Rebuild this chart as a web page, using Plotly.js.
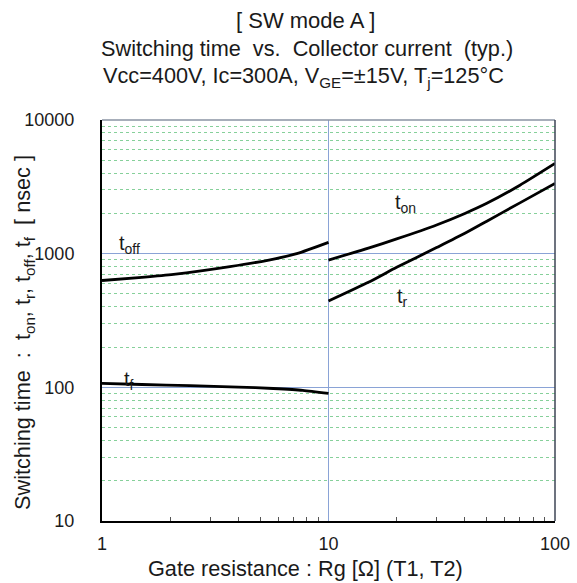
<!DOCTYPE html>
<html>
<head>
<meta charset="utf-8">
<script src="https://cdn.plot.ly/plotly-3.0.1.min.js"></script>
<style>html,body{margin:0;padding:0;background:#fff;}#chart{width:577px;height:583px;}</style>
</head>
<body>
<div id="chart"></div>
<script>
// Gate resistance Rg [ohm] and switching times [nsec]
const rgLow = [1, 1.5, 2.07, 3.67, 5.52, 7.24, 10];
const tOff = [630, 665, 700, 800, 900, 1000, 1215];
const rgTf = [1, 1.5, 2.45, 4, 5.7, 7.7, 10];
const tF = [107, 105, 103, 100.5, 98, 95, 90];
const rgHigh = [10, 15, 20, 30, 40, 50, 70, 100];
const tOn = [896, 1100, 1290, 1640, 2000, 2380, 3250, 4730];
const tR = [442, 610, 790, 1110, 1420, 1750, 2400, 3356];
const xTickVals = [1, 10, 100];
const xTickText = ['1', '10', '100'];
const yTickVals = [10, 100, 1000, 10000];
const yTickText = ['10', '100', '1000', '10000'];
const S2 = '\u00a0\u00a0';
const titleLines = [
  '[ SW mode A ]',
  'Switching time' + S2 + 'vs.' + S2 + 'Collector current' + S2 + '(typ.)',
  'Vcc=400V, Ic=300A, V<sub>GE</sub>=±15V, T<sub>j</sub>=125°C'
];
const xTitle = 'Gate resistance : Rg [Ω] (T1, T2)';
const yTitle = 'Switching time' + S2 + ':' + S2 + 't<sub>on</sub>, t<sub>r</sub>, t<sub>off</sub>, t<sub>f</sub>' + S2 + '[ nsec ]';
const curveLabels = ['t<sub>off</sub>', 't<sub>f</sub>', 't<sub>on</sub>', 't<sub>r</sub>'];

function minorVals(lo, hi) {
  const v = [];
  for (let d = lo; d < hi; d *= 10) for (let k = 2; k <= 9; k++) v.push(k * d);
  return v;
}

const F = 'Liberation Sans, Arial, sans-serif';
const TXT = '#1a1a1a';
const line = {color: '#000', width: 2.8, shape: 'spline', smoothing: 0.6};
const traces = [
  {x: rgLow, y: tOff, mode: 'lines', line: line, hoverinfo: 'skip'},
  {x: rgTf, y: tF, mode: 'lines', line: line, hoverinfo: 'skip'},
  {x: rgHigh, y: tOn, mode: 'lines', line: line, hoverinfo: 'skip'},
  {x: rgHigh, y: tR, mode: 'lines', line: line, hoverinfo: 'skip'}
];

// plot area in px: left 102, right 555, top 120, bottom 521
const px = x => (x - 102) / 453;
const py = y => (521 - y) / 401;
const ann = (x, y, text, size, extra) => Object.assign({xref: 'paper', yref: 'paper', x: px(x), y: py(y), text: text,
  showarrow: false, xanchor: 'center', yanchor: 'middle', font: {family: F, size: size, color: TXT}}, extra || {});

const annotations = [
  ann(305, 20, titleLines[0], 22),
  ann(307, 48, titleLines[1], 21.7),
  ann(303, 77, titleLines[2], 21.7),
  ann(305, 568, xTitle, 21.7),
  ann(24, 333, yTitle, 21.7, {textangle: -90})
];

const labelPos = [[1.316, 1180], [1.316, 112], [21.8, 2380], [21.2, 470]];
labelPos.forEach((p, i) => annotations.push({x: Math.log10(p[0]), y: Math.log10(p[1]), text: curveLabels[i],
  showarrow: false, xanchor: 'center', yanchor: 'middle', font: {family: F, size: 20, color: TXT}}));

const layout = {
  width: 577, height: 583,
  margin: {l: 102, r: 22, t: 120, b: 62},
  paper_bgcolor: '#fff', plot_bgcolor: '#fff',
  showlegend: false,
  font: {family: F, size: 18, color: TXT},
  xaxis: {
    type: 'log', range: [0, 2], tickmode: 'array', tickvals: xTickVals, ticktext: xTickText,
    showgrid: true, gridcolor: '#8aa3d6', gridwidth: 1, zeroline: false,
    showline: true, linecolor: '#000', linewidth: 2, ticks: '', ticklabelstandoff: 5,
    tickfont: {family: F, size: 18, color: TXT},
    minor: {tickmode: 'array', tickvals: minorVals(1, 100), ticks: 'inside', ticklen: 4, tickcolor: '#555', tickwidth: 1, showgrid: false},
    fixedrange: true
  },
  yaxis: {
    type: 'log', range: [1, 4], tickmode: 'array', tickvals: yTickVals, ticktext: yTickText,
    showgrid: true, gridcolor: '#8aa3d6', gridwidth: 1, zeroline: false,
    showline: true, linecolor: '#000', linewidth: 2, ticks: '', ticklabelstandoff: 22,
    tickfont: {family: F, size: 18, color: TXT},
    minor: {tickmode: 'array', tickvals: minorVals(10, 10000), ticks: '', showgrid: true,
      gridcolor: '#86d09a', gridwidth: 1, griddash: 'dot'},
    fixedrange: true
  },
  shapes: [
    {type: 'line', xref: 'paper', yref: 'paper', x0: 0, x1: 1, y0: 1, y1: 1, line: {color: '#8a93a3', width: 1.5}},
    {type: 'line', xref: 'paper', yref: 'paper', x0: 1, x1: 1, y0: 0, y1: 1, line: {color: '#3d4555', width: 1.5}}
  ],
  annotations: annotations
};

Plotly.newPlot('chart', traces, layout, {displayModeBar: false});
</script>
</body>
</html>
